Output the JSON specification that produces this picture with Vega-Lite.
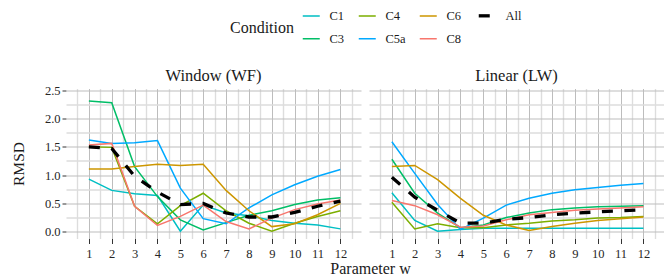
{
  "$schema": "https://vega.github.io/schema/vega-lite/v6.json",
  "background": "white",
  "padding": {"left": 11, "top": 9.5, "right": 0, "bottom": 0},
  "config": {
    "font": "Liberation Serif, serif",
    "view": {"stroke": null},
    "style": {"guide-label": {"font": "Liberation Serif, serif"}, "guide-title": {"font": "Liberation Serif, serif"}, "group-title": {"font": "Liberation Serif, serif"}},
    "axis": {"labelFont": "Liberation Serif, serif", "titleFont": "Liberation Serif, serif"},
    "legend": {"labelFont": "Liberation Serif, serif", "titleFont": "Liberation Serif, serif"},
    "header": {"labelFont": "Liberation Serif, serif", "titleFont": "Liberation Serif, serif"},
    "title": {"font": "Liberation Serif, serif"}
  },
  "title": {"text": "Parameter w", "orient": "bottom", "anchor": "middle", "frame": "bounds", "dx": 33, "fontSize": 16, "fontWeight": "normal", "color": "#1a1a1a", "offset": 1, "font": "Liberation Serif, serif"},
  "data": {"values": [
    {"method": "Window (WF)", "cond": "C1", "w": 1, "rmsd": 0.93}, {"method": "Window (WF)", "cond": "C1", "w": 2, "rmsd": 0.73}, {"method": "Window (WF)", "cond": "C1", "w": 3, "rmsd": 0.67}, {"method": "Window (WF)", "cond": "C1", "w": 4, "rmsd": 0.64}, {"method": "Window (WF)", "cond": "C1", "w": 5, "rmsd": 0.01}, {"method": "Window (WF)", "cond": "C1", "w": 6, "rmsd": 0.47}, {"method": "Window (WF)", "cond": "C1", "w": 7, "rmsd": 0.33}, {"method": "Window (WF)", "cond": "C1", "w": 8, "rmsd": 0.28}, {"method": "Window (WF)", "cond": "C1", "w": 9, "rmsd": 0.2}, {"method": "Window (WF)", "cond": "C1", "w": 10, "rmsd": 0.15}, {"method": "Window (WF)", "cond": "C1", "w": 11, "rmsd": 0.12}, {"method": "Window (WF)", "cond": "C1", "w": 12, "rmsd": 0.05},
    {"method": "Window (WF)", "cond": "C3", "w": 1, "rmsd": 2.31}, {"method": "Window (WF)", "cond": "C3", "w": 2, "rmsd": 2.28}, {"method": "Window (WF)", "cond": "C3", "w": 3, "rmsd": 1.15}, {"method": "Window (WF)", "cond": "C3", "w": 4, "rmsd": 0.62}, {"method": "Window (WF)", "cond": "C3", "w": 5, "rmsd": 0.21}, {"method": "Window (WF)", "cond": "C3", "w": 6, "rmsd": 0.03}, {"method": "Window (WF)", "cond": "C3", "w": 7, "rmsd": 0.16}, {"method": "Window (WF)", "cond": "C3", "w": 8, "rmsd": 0.29}, {"method": "Window (WF)", "cond": "C3", "w": 9, "rmsd": 0.37}, {"method": "Window (WF)", "cond": "C3", "w": 10, "rmsd": 0.48}, {"method": "Window (WF)", "cond": "C3", "w": 11, "rmsd": 0.56}, {"method": "Window (WF)", "cond": "C3", "w": 12, "rmsd": 0.6},
    {"method": "Window (WF)", "cond": "C4", "w": 1, "rmsd": 1.5}, {"method": "Window (WF)", "cond": "C4", "w": 2, "rmsd": 1.49}, {"method": "Window (WF)", "cond": "C4", "w": 3, "rmsd": 0.45}, {"method": "Window (WF)", "cond": "C4", "w": 4, "rmsd": 0.14}, {"method": "Window (WF)", "cond": "C4", "w": 5, "rmsd": 0.46}, {"method": "Window (WF)", "cond": "C4", "w": 6, "rmsd": 0.68}, {"method": "Window (WF)", "cond": "C4", "w": 7, "rmsd": 0.37}, {"method": "Window (WF)", "cond": "C4", "w": 8, "rmsd": 0.15}, {"method": "Window (WF)", "cond": "C4", "w": 9, "rmsd": 0.01}, {"method": "Window (WF)", "cond": "C4", "w": 10, "rmsd": 0.15}, {"method": "Window (WF)", "cond": "C4", "w": 11, "rmsd": 0.27}, {"method": "Window (WF)", "cond": "C4", "w": 12, "rmsd": 0.37},
    {"method": "Window (WF)", "cond": "C5a", "w": 1, "rmsd": 1.62}, {"method": "Window (WF)", "cond": "C5a", "w": 2, "rmsd": 1.56}, {"method": "Window (WF)", "cond": "C5a", "w": 3, "rmsd": 1.57}, {"method": "Window (WF)", "cond": "C5a", "w": 4, "rmsd": 1.61}, {"method": "Window (WF)", "cond": "C5a", "w": 5, "rmsd": 0.77}, {"method": "Window (WF)", "cond": "C5a", "w": 6, "rmsd": 0.23}, {"method": "Window (WF)", "cond": "C5a", "w": 7, "rmsd": 0.14}, {"method": "Window (WF)", "cond": "C5a", "w": 8, "rmsd": 0.42}, {"method": "Window (WF)", "cond": "C5a", "w": 9, "rmsd": 0.65}, {"method": "Window (WF)", "cond": "C5a", "w": 10, "rmsd": 0.83}, {"method": "Window (WF)", "cond": "C5a", "w": 11, "rmsd": 0.98}, {"method": "Window (WF)", "cond": "C5a", "w": 12, "rmsd": 1.1},
    {"method": "Window (WF)", "cond": "C6", "w": 1, "rmsd": 1.11}, {"method": "Window (WF)", "cond": "C6", "w": 2, "rmsd": 1.11}, {"method": "Window (WF)", "cond": "C6", "w": 3, "rmsd": 1.15}, {"method": "Window (WF)", "cond": "C6", "w": 4, "rmsd": 1.19}, {"method": "Window (WF)", "cond": "C6", "w": 5, "rmsd": 1.17}, {"method": "Window (WF)", "cond": "C6", "w": 6, "rmsd": 1.19}, {"method": "Window (WF)", "cond": "C6", "w": 7, "rmsd": 0.73}, {"method": "Window (WF)", "cond": "C6", "w": 8, "rmsd": 0.37}, {"method": "Window (WF)", "cond": "C6", "w": 9, "rmsd": 0.09}, {"method": "Window (WF)", "cond": "C6", "w": 10, "rmsd": 0.14}, {"method": "Window (WF)", "cond": "C6", "w": 11, "rmsd": 0.3}, {"method": "Window (WF)", "cond": "C6", "w": 12, "rmsd": 0.5},
    {"method": "Window (WF)", "cond": "C8", "w": 1, "rmsd": 1.53}, {"method": "Window (WF)", "cond": "C8", "w": 2, "rmsd": 1.56}, {"method": "Window (WF)", "cond": "C8", "w": 3, "rmsd": 0.45}, {"method": "Window (WF)", "cond": "C8", "w": 4, "rmsd": 0.11}, {"method": "Window (WF)", "cond": "C8", "w": 5, "rmsd": 0.27}, {"method": "Window (WF)", "cond": "C8", "w": 6, "rmsd": 0.47}, {"method": "Window (WF)", "cond": "C8", "w": 7, "rmsd": 0.18}, {"method": "Window (WF)", "cond": "C8", "w": 8, "rmsd": 0.05}, {"method": "Window (WF)", "cond": "C8", "w": 9, "rmsd": 0.24}, {"method": "Window (WF)", "cond": "C8", "w": 10, "rmsd": 0.39}, {"method": "Window (WF)", "cond": "C8", "w": 11, "rmsd": 0.49}, {"method": "Window (WF)", "cond": "C8", "w": 12, "rmsd": 0.56},
    {"method": "Window (WF)", "cond": "All", "w": 1, "rmsd": 1.5}, {"method": "Window (WF)", "cond": "All", "w": 2, "rmsd": 1.47}, {"method": "Window (WF)", "cond": "All", "w": 3, "rmsd": 0.98}, {"method": "Window (WF)", "cond": "All", "w": 4, "rmsd": 0.7}, {"method": "Window (WF)", "cond": "All", "w": 5, "rmsd": 0.48}, {"method": "Window (WF)", "cond": "All", "w": 6, "rmsd": 0.5}, {"method": "Window (WF)", "cond": "All", "w": 7, "rmsd": 0.33}, {"method": "Window (WF)", "cond": "All", "w": 8, "rmsd": 0.26}, {"method": "Window (WF)", "cond": "All", "w": 9, "rmsd": 0.26}, {"method": "Window (WF)", "cond": "All", "w": 10, "rmsd": 0.34}, {"method": "Window (WF)", "cond": "All", "w": 11, "rmsd": 0.45}, {"method": "Window (WF)", "cond": "All", "w": 12, "rmsd": 0.54},
    {"method": "Linear (LW)", "cond": "C1", "w": 1, "rmsd": 0.69}, {"method": "Linear (LW)", "cond": "C1", "w": 2, "rmsd": 0.2}, {"method": "Linear (LW)", "cond": "C1", "w": 3, "rmsd": 0.01}, {"method": "Linear (LW)", "cond": "C1", "w": 4, "rmsd": 0.04}, {"method": "Linear (LW)", "cond": "C1", "w": 5, "rmsd": 0.06}, {"method": "Linear (LW)", "cond": "C1", "w": 6, "rmsd": 0.06}, {"method": "Linear (LW)", "cond": "C1", "w": 7, "rmsd": 0.06}, {"method": "Linear (LW)", "cond": "C1", "w": 8, "rmsd": 0.06}, {"method": "Linear (LW)", "cond": "C1", "w": 9, "rmsd": 0.06}, {"method": "Linear (LW)", "cond": "C1", "w": 10, "rmsd": 0.06}, {"method": "Linear (LW)", "cond": "C1", "w": 11, "rmsd": 0.06}, {"method": "Linear (LW)", "cond": "C1", "w": 12, "rmsd": 0.06},
    {"method": "Linear (LW)", "cond": "C3", "w": 1, "rmsd": 1.28}, {"method": "Linear (LW)", "cond": "C3", "w": 2, "rmsd": 0.68}, {"method": "Linear (LW)", "cond": "C3", "w": 3, "rmsd": 0.33}, {"method": "Linear (LW)", "cond": "C3", "w": 4, "rmsd": 0.07}, {"method": "Linear (LW)", "cond": "C3", "w": 5, "rmsd": 0.12}, {"method": "Linear (LW)", "cond": "C3", "w": 6, "rmsd": 0.25}, {"method": "Linear (LW)", "cond": "C3", "w": 7, "rmsd": 0.33}, {"method": "Linear (LW)", "cond": "C3", "w": 8, "rmsd": 0.39}, {"method": "Linear (LW)", "cond": "C3", "w": 9, "rmsd": 0.42}, {"method": "Linear (LW)", "cond": "C3", "w": 10, "rmsd": 0.44}, {"method": "Linear (LW)", "cond": "C3", "w": 11, "rmsd": 0.45}, {"method": "Linear (LW)", "cond": "C3", "w": 12, "rmsd": 0.46},
    {"method": "Linear (LW)", "cond": "C4", "w": 1, "rmsd": 0.52}, {"method": "Linear (LW)", "cond": "C4", "w": 2, "rmsd": 0.05}, {"method": "Linear (LW)", "cond": "C4", "w": 3, "rmsd": 0.14}, {"method": "Linear (LW)", "cond": "C4", "w": 4, "rmsd": 0.07}, {"method": "Linear (LW)", "cond": "C4", "w": 5, "rmsd": 0.07}, {"method": "Linear (LW)", "cond": "C4", "w": 6, "rmsd": 0.12}, {"method": "Linear (LW)", "cond": "C4", "w": 7, "rmsd": 0.15}, {"method": "Linear (LW)", "cond": "C4", "w": 8, "rmsd": 0.19}, {"method": "Linear (LW)", "cond": "C4", "w": 9, "rmsd": 0.21}, {"method": "Linear (LW)", "cond": "C4", "w": 10, "rmsd": 0.24}, {"method": "Linear (LW)", "cond": "C4", "w": 11, "rmsd": 0.25}, {"method": "Linear (LW)", "cond": "C4", "w": 12, "rmsd": 0.27},
    {"method": "Linear (LW)", "cond": "C5a", "w": 1, "rmsd": 1.59}, {"method": "Linear (LW)", "cond": "C5a", "w": 2, "rmsd": 1.03}, {"method": "Linear (LW)", "cond": "C5a", "w": 3, "rmsd": 0.48}, {"method": "Linear (LW)", "cond": "C5a", "w": 4, "rmsd": 0.04}, {"method": "Linear (LW)", "cond": "C5a", "w": 5, "rmsd": 0.24}, {"method": "Linear (LW)", "cond": "C5a", "w": 6, "rmsd": 0.47}, {"method": "Linear (LW)", "cond": "C5a", "w": 7, "rmsd": 0.59}, {"method": "Linear (LW)", "cond": "C5a", "w": 8, "rmsd": 0.68}, {"method": "Linear (LW)", "cond": "C5a", "w": 9, "rmsd": 0.74}, {"method": "Linear (LW)", "cond": "C5a", "w": 10, "rmsd": 0.78}, {"method": "Linear (LW)", "cond": "C5a", "w": 11, "rmsd": 0.82}, {"method": "Linear (LW)", "cond": "C5a", "w": 12, "rmsd": 0.85},
    {"method": "Linear (LW)", "cond": "C6", "w": 1, "rmsd": 1.15}, {"method": "Linear (LW)", "cond": "C6", "w": 2, "rmsd": 1.17}, {"method": "Linear (LW)", "cond": "C6", "w": 3, "rmsd": 0.92}, {"method": "Linear (LW)", "cond": "C6", "w": 4, "rmsd": 0.59}, {"method": "Linear (LW)", "cond": "C6", "w": 5, "rmsd": 0.29}, {"method": "Linear (LW)", "cond": "C6", "w": 6, "rmsd": 0.12}, {"method": "Linear (LW)", "cond": "C6", "w": 7, "rmsd": 0.02}, {"method": "Linear (LW)", "cond": "C6", "w": 8, "rmsd": 0.09}, {"method": "Linear (LW)", "cond": "C6", "w": 9, "rmsd": 0.15}, {"method": "Linear (LW)", "cond": "C6", "w": 10, "rmsd": 0.2}, {"method": "Linear (LW)", "cond": "C6", "w": 11, "rmsd": 0.23}, {"method": "Linear (LW)", "cond": "C6", "w": 12, "rmsd": 0.26},
    {"method": "Linear (LW)", "cond": "C8", "w": 1, "rmsd": 0.55}, {"method": "Linear (LW)", "cond": "C8", "w": 2, "rmsd": 0.46}, {"method": "Linear (LW)", "cond": "C8", "w": 3, "rmsd": 0.3}, {"method": "Linear (LW)", "cond": "C8", "w": 4, "rmsd": 0.08}, {"method": "Linear (LW)", "cond": "C8", "w": 5, "rmsd": 0.1}, {"method": "Linear (LW)", "cond": "C8", "w": 6, "rmsd": 0.21}, {"method": "Linear (LW)", "cond": "C8", "w": 7, "rmsd": 0.3}, {"method": "Linear (LW)", "cond": "C8", "w": 8, "rmsd": 0.34}, {"method": "Linear (LW)", "cond": "C8", "w": 9, "rmsd": 0.38}, {"method": "Linear (LW)", "cond": "C8", "w": 10, "rmsd": 0.4}, {"method": "Linear (LW)", "cond": "C8", "w": 11, "rmsd": 0.42}, {"method": "Linear (LW)", "cond": "C8", "w": 12, "rmsd": 0.44},
    {"method": "Linear (LW)", "cond": "All", "w": 1, "rmsd": 0.96}, {"method": "Linear (LW)", "cond": "All", "w": 2, "rmsd": 0.61}, {"method": "Linear (LW)", "cond": "All", "w": 3, "rmsd": 0.38}, {"method": "Linear (LW)", "cond": "All", "w": 4, "rmsd": 0.15}, {"method": "Linear (LW)", "cond": "All", "w": 5, "rmsd": 0.15}, {"method": "Linear (LW)", "cond": "All", "w": 6, "rmsd": 0.22}, {"method": "Linear (LW)", "cond": "All", "w": 7, "rmsd": 0.25}, {"method": "Linear (LW)", "cond": "All", "w": 8, "rmsd": 0.3}, {"method": "Linear (LW)", "cond": "All", "w": 9, "rmsd": 0.33}, {"method": "Linear (LW)", "cond": "All", "w": 10, "rmsd": 0.35}, {"method": "Linear (LW)", "cond": "All", "w": 11, "rmsd": 0.37}, {"method": "Linear (LW)", "cond": "All", "w": 12, "rmsd": 0.39}
  ]},
  "facet": {"column": {"field": "method", "type": "nominal", "sort": "descending", "header": {"title": null, "labelFontSize": 16.5, "labelColor": "#1a1a1a", "labelFont": "Liberation Serif, serif", "labelPadding": 4}}},
  "spacing": 8,
  "spec": {
    "width": 295,
    "height": 150,
    "encoding": {
      "x": {"field": "w", "type": "quantitative", "scale": {"domain": [0, 12.9], "nice": false, "zero": false},
        "axis": {"title": null, "values": [0.5, 1, 1.5, 2, 2.5, 3, 3.5, 4, 4.5, 5, 5.5, 6, 6.5, 7, 7.5, 8, 8.5, 9, 9.5, 10, 10.5, 11, 11.5, 12, 12.5],
          "labelExpr": "datum.value % 1 === 0 ? format(datum.value, 'd') : ''", "labelFont": "Liberation Serif, serif", "labelFontSize": 12.5, "labelColor": "#262626", "labelPadding": 4, "labelFlush": false, "labelOverlap": false,
          "domain": false, "tickColor": "#333333", "tickSize": 5, "tickWidth": 1,
          "tickOpacity": {"condition": {"test": "datum.value % 1 === 0", "value": 1}, "value": 0},
          "grid": true,
          "gridColor": {"condition": {"test": "datum.value % 1 === 0", "value": "#BDBDBD"}, "value": "#DDDDDD"},
          "gridWidth": {"condition": {"test": "datum.value % 1 === 0", "value": 1}, "value": 1.4}}},
      "y": {"field": "rmsd", "type": "quantitative", "scale": {"domain": [-0.12, 2.53], "nice": false, "zero": false},
        "axis": {"title": "RMSD", "titleFont": "Liberation Serif, serif", "titleFontSize": 15.5, "titleFontWeight": "normal", "titleColor": "#1a1a1a", "titlePadding": 14,
          "minExtent": 26, "maxExtent": 26,
          "values": [0, 0.25, 0.5, 0.75, 1, 1.25, 1.5, 1.75, 2, 2.25, 2.5],
          "labelExpr": "(datum.value * 2) % 1 === 0 ? format(datum.value, '.1f') : ''", "labelFont": "Liberation Serif, serif", "labelFontSize": 12.5, "labelColor": "#262626", "labelPadding": 2,
          "domain": false, "tickColor": "#333333", "tickSize": 4, "tickWidth": 1,
          "tickOpacity": {"condition": {"test": "(datum.value * 2) % 1 === 0", "value": 1}, "value": 0},
          "grid": true,
          "gridColor": {"condition": {"test": "(datum.value * 2) % 1 === 0", "value": "#BDBDBD"}, "value": "#DDDDDD"},
          "gridWidth": {"condition": {"test": "(datum.value * 2) % 1 === 0", "value": 1}, "value": 1.4}}},
      "color": {"field": "cond", "type": "nominal", "title": "Condition",
        "scale": {"domain": ["C1", "C4", "C6", "All", "C3", "C5a", "C8"], "range": ["#00BFC4", "#7CAE00", "#CD9600", "#000000", "#00BE67", "#00A9FF", "#F8766D"]},
        "legend": {"orient": "none", "legendX": 164, "legendY": -79, "direction": "horizontal", "columns": 4, "titleOrient": "left", "symbolType": "stroke", "symbolSize": 289,
          "labelOffset": 12, "columnPadding": 10, "rowPadding": 10, "titleFont": "Liberation Serif, serif", "titleFontSize": 16, "titleFontWeight": "normal", "titleColor": "#1a1a1a", "labelFont": "Liberation Serif, serif", "labelFontSize": 12.5, "labelColor": "#1a1a1a", "titlePadding": 10,
          "encode": {"symbols": {"update": {"strokeWidth": {"signal": "datum.value === 'All' ? 3.3 : 1.5"}, "strokeDash": {"signal": "datum.value === 'All' ? [11, 11] : [1, 0]"}}}}}}
    },
    "layer": [
      {"transform": [{"filter": "datum.cond !== 'All'"}], "mark": {"type": "line", "clip": true, "strokeWidth": 1.5}},
      {"transform": [{"filter": "datum.cond === 'All'"}], "mark": {"type": "line", "clip": true, "strokeWidth": 3.3, "strokeDash": [11, 11.5]}}
    ]
  }
}
